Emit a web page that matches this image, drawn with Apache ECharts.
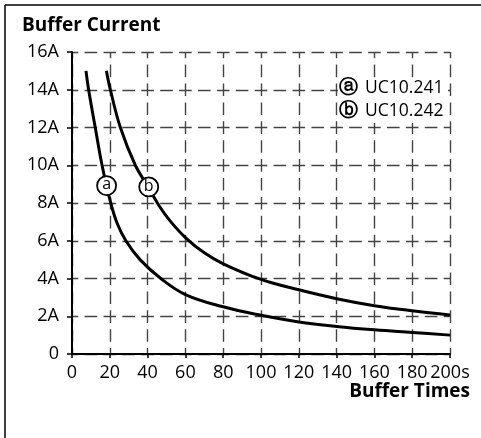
<!DOCTYPE html>
<html>
<head>
<meta charset="utf-8">
<script src="https://cdn.jsdelivr.net/npm/echarts@6/dist/echarts.min.js"></script>
<style>html,body{margin:0;padding:0;background:#fff;}#c{width:481px;height:438px;}</style>
</head>
<body>
<div id="c"></div>
<script>
// Data
var curveA = [[7.4,15],[8.8,14],[12.3,12],[15.9,10],[20.5,8],[24,6.9],[28.5,6],[36,5.0],[47,4],[60,3.15],[80,2.5],[100,2.05],[120,1.7],[140,1.46],[160,1.28],[180,1.14],[200,1.0]];
var curveB = [[18.2,15],[20.3,14],[25.6,12],[33.5,10],[40,8.9],[46,7.87],[52,7.04],[60,6.17],[70,5.36],[80,4.78],[100,3.95],[120,3.4],[140,2.93],[160,2.56],[180,2.29],[200,2.07]];
var markerLabels = ['a','b'];
var markerPoints = [[18.3,8.92],[40.6,8.85]];
var legendNames = ['UC10.241','UC10.242'];
var legendSymbols = ['\u24D0','\u24D1'];
var xTicks = [0,20,40,60,80,100,120,140,160,180,200];
var yTicks = [0,2,4,6,8,10,12,14,16];
var yTitle = 'Buffer Current';
var xTitle = 'Buffer Times';

var FONT = 'Open Sans';
var chart = echarts.init(document.getElementById('c'), null, {renderer:'canvas'});
var dash = [12.6, 6.3];
var gridColor = '#444';
chart.setOption({
  animation:false,
  backgroundColor:'#fff',
  grid:{left:72, right:31, top:52, bottom:84, containLabel:false},
  xAxis:{
    type:'value', min:0, max:200, interval:20,
    axisLine:{show:true, onZero:false, lineStyle:{color:'#000', width:2}},
    axisTick:{show:true, length:4, lineStyle:{color:'#000', width:1.5}},
    axisLabel:{color:'#000', fontFamily:FONT, fontSize:18, margin:10,
      formatter:function(v){ return v===200 ? v+'s' : String(v); }},
    splitLine:{show:true, lineStyle:{color:gridColor, width:1.4, type:dash, dashOffset:6.3}}
  },
  yAxis:{
    type:'value', min:0, max:16, interval:2,
    axisLine:{show:true, onZero:false, lineStyle:{color:'#000', width:2}},
    axisTick:{show:true, length:5, lineStyle:{color:'#000', width:1.5}},
    axisLabel:{color:'#000', fontFamily:FONT, fontSize:18, margin:13,
      formatter:function(v){ return v===0 ? '0' : v+'A'; }},
    splitLine:{show:true, lineStyle:{color:gridColor, width:1.4, type:dash, dashOffset:6.3}}
  },
  series:[
    {type:'line', data:curveA, smooth:0.4, showSymbol:false, lineStyle:{color:'#000', width:3}, z:3},
    {type:'line', data:curveB, smooth:0.4, showSymbol:false, lineStyle:{color:'#000', width:3}, z:3},
    {type:'scatter', data:markerPoints.map(function(p,i){return {value:p, name:markerLabels[i]};}),
      symbol:'circle', symbolSize:19, z:5,
      itemStyle:{color:'#fff', borderColor:'#000', borderWidth:1.8, opacity:1},
      label:{show:true, position:'inside', formatter:function(p){return p.name;}, color:'#000', fontFamily:FONT, fontSize:16, offset:[0,-1]}}
  ],
  graphic:[
    {type:'line', shape:{x1:5, y1:5, x2:5, y2:438}, style:{stroke:'#000', lineWidth:1.5}},
    {type:'line', shape:{x1:5, y1:5, x2:481, y2:5}, style:{stroke:'#000', lineWidth:1.5}},
    {type:'text', x:22, y:26, style:{text:yTitle, fill:'#000', font:'bold 19px "'+FONT+'"', textVerticalAlign:'middle'}},
    {type:'text', x:470, y:392, style:{text:xTitle, fill:'#000', font:'bold 19px "'+FONT+'"', textAlign:'right', textVerticalAlign:'middle'}},
    {type:'rect', shape:{x:338, y:78, width:110, height:45}, style:{fill:'#fff'}, z:10},
    {type:'text', x:339, y:88, z:11, style:{text:legendSymbols[0], fill:'#000', font:'bold 19px "DejaVu Sans"', textVerticalAlign:'middle'}},
    {type:'text', x:365, y:88, z:11, style:{text:legendNames[0], fill:'#000', font:'17.5px "'+FONT+'"', textVerticalAlign:'middle'}},
    {type:'text', x:339, y:111, z:11, style:{text:legendSymbols[1], fill:'#000', font:'bold 19px "DejaVu Sans"', textVerticalAlign:'middle'}},
    {type:'text', x:365, y:111, z:11, style:{text:legendNames[1], fill:'#000', font:'17.5px "'+FONT+'"', textVerticalAlign:'middle'}}
  ]
});
</script>
</body>
</html>
